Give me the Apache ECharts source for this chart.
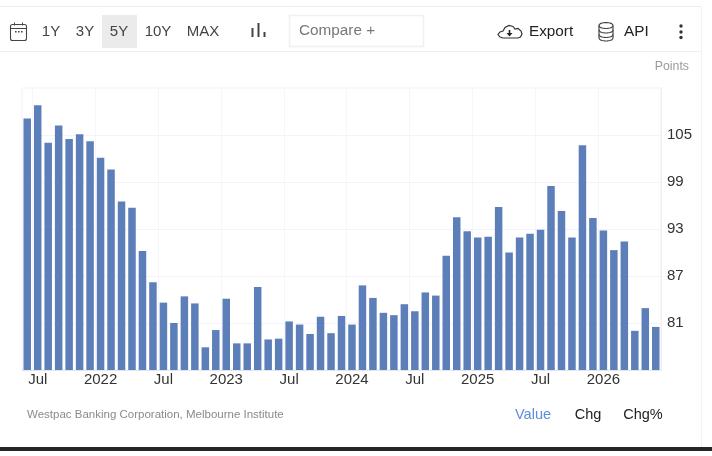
<!DOCTYPE html>
<html>
<head>
<meta charset="utf-8">
<style>
  html, body { margin: 0; padding: 0; background: #fff; }
  #chart { width: 712px; height: 456px; }
</style>
<script src="https://cdn.jsdelivr.net/npm/echarts@6/dist/echarts.min.js"></script>
</head>
<body>
<div id="chart"></div>
<script>
// Consumer sentiment index, monthly, June 2021 to June 2026
const months = [
  'Jun 2021','Jul 2021','Aug 2021','Sep 2021','Oct 2021','Nov 2021','Dec 2021',
  'Jan 2022','Feb 2022','Mar 2022','Apr 2022','May 2022','Jun 2022','Jul 2022','Aug 2022','Sep 2022','Oct 2022','Nov 2022','Dec 2022',
  'Jan 2023','Feb 2023','Mar 2023','Apr 2023','May 2023','Jun 2023','Jul 2023','Aug 2023','Sep 2023','Oct 2023','Nov 2023','Dec 2023',
  'Jan 2024','Feb 2024','Mar 2024','Apr 2024','May 2024','Jun 2024','Jul 2024','Aug 2024','Sep 2024','Oct 2024','Nov 2024','Dec 2024',
  'Jan 2025','Feb 2025','Mar 2025','Apr 2025','May 2025','Jun 2025','Jul 2025','Aug 2025','Sep 2025','Oct 2025','Nov 2025','Dec 2025',
  'Jan 2026','Feb 2026','Mar 2026','Apr 2026','May 2026','Jun 2026'
];
const sentiment = [
  107.1,108.8,104.0,106.2,104.5,105.1,104.2,
  102.1,100.6,96.5,95.7,90.2,86.2,83.6,81.0,84.4,83.5,77.9,80.1,
  84.1,78.4,78.4,85.6,78.9,79.0,81.2,80.8,79.6,81.8,79.7,81.9,
  80.8,85.8,84.2,82.3,82.0,83.4,82.5,84.9,84.5,89.6,94.5,92.7,
  91.9,92.0,95.8,90.0,91.9,92.4,92.9,98.5,95.3,91.9,103.7,94.4,
  92.8,90.3,91.4,80.0,82.9,80.5
];
const valueTicks = [81, 87, 93, 99, 105];
const rangeButtons = ['1Y', '3Y', '5Y', '10Y', 'MAX'];
const rangeCentres = [51, 85, 119, 158, 203];
const modeLabels = ['Value', 'Chg', 'Chg%'];
const modeCentres = [533, 588, 643];

const FONT = '"Liberation Sans", Arial, sans-serif';

function label(text, x, y, size, fill, align) {
  return { type: 'text', x, y, silent: true,
    style: { text, fill, font: size + 'px ' + FONT, textAlign: align || 'center', textVerticalAlign: 'middle' } };
}
function rect(x, y, width, height, style, r) {
  return { type: 'rect', shape: { x, y, width, height, r: r || 0 }, silent: true, style };
}
function line(x1, y1, x2, y2, stroke, lineWidth) {
  return { type: 'line', shape: { x1, y1, x2, y2 }, silent: true, style: { stroke, lineWidth: lineWidth || 1 } };
}
// Elliptical arc as a polyline, used for the database icon's discs
function discArc(cx, cy, rx, ry, from, to) {
  const points = [];
  for (let a = from; a <= to + 1e-6; a += Math.PI / 16) {
    points.push([cx + rx * Math.cos(a), cy + ry * Math.sin(a)]);
  }
  return { type: 'polyline', silent: true, shape: { points }, style: { fill: 'none', stroke: '#444', lineWidth: 1.2 } };
}

// Toolbar and panel furniture drawn around the plot
const furniture = [
  line(0, 6.5, 701, 6.5, '#ececec'),
  line(0, 51.5, 701, 51.5, '#eeeeee'),
  line(701.5, 6, 701.5, 447, '#f2f2f2'),
  rect(0, 447, 712, 4, { fill: '#26262a' }),
  rect(102, 15, 35, 33, { fill: '#ebebeb' }),

  // calendar
  rect(10.5, 24.5, 16, 16, { fill: 'none', stroke: '#444', lineWidth: 1.1 }, 2),
  line(10.5, 28.5, 26.5, 28.5, '#444'),
  line(14.5, 22.5, 14.5, 25.5, '#444'),
  line(22.5, 22.5, 22.5, 25.5, '#444'),
  rect(15, 31, 1.6, 1.6, { fill: '#444' }),
  rect(18, 31, 1.6, 1.6, { fill: '#444' }),
  rect(21, 31, 1.6, 1.6, { fill: '#444' }),

  // bar-chart switch
  line(252.5, 37, 252.5, 28, '#444', 2),
  line(258.5, 37, 258.5, 23, '#444', 2),
  line(264.5, 37, 264.5, 32, '#444', 2),

  // compare box
  rect(289.5, 15.5, 134, 31, { fill: '#fff', stroke: '#f0f0f0', lineWidth: 1.5 }),
  label('Compare +', 299, 31, 15.3, '#777777', 'left'),

  // export cloud
  { type: 'polyline', silent: true,
    shape: { points: [[503, 38], [500, 37], [498, 34.5], [500, 32], [503, 31], [505, 27.5], [509, 25.5], [513, 26.5], [515, 29], [518, 28.5], [521, 31], [522, 34], [520.5, 37], [518, 38], [503, 38]] },
    style: { fill: 'none', stroke: '#333', lineWidth: 1.2 } },
  line(509.5, 30, 509.5, 34, '#222', 1.6),
  { type: 'polygon', silent: true, shape: { points: [[506.5, 33], [512.5, 33], [509.5, 36.5]] }, style: { fill: '#222' } },
  label('Export', 529, 32, 15.3, '#222222', 'left'),

  // API database: stacked discs
  discArc(606, 25.5, 7, 3, 0, Math.PI * 2),
  discArc(606, 30, 7, 3, 0, Math.PI),
  discArc(606, 34.5, 7, 3, 0, Math.PI),
  discArc(606, 38, 7, 3, 0, Math.PI),
  line(599, 25.5, 599, 38, '#444', 1.2),
  line(613, 25.5, 613, 38, '#444', 1.2),
  label('API', 624, 32, 15.3, '#222222', 'left'),

  // overflow menu
  { type: 'circle', silent: true, shape: { cx: 681, cy: 26, r: 1.7 }, style: { fill: '#333' } },
  { type: 'circle', silent: true, shape: { cx: 681, cy: 32, r: 1.7 }, style: { fill: '#333' } },
  { type: 'circle', silent: true, shape: { cx: 681, cy: 37.5, r: 1.7 }, style: { fill: '#333' } },

  label('Points', 689, 67, 12.3, '#9a9a9a', 'right'),
  label('Westpac Banking Corporation, Melbourne Institute', 27, 415, 11.5, '#8a8a8a', 'left')
];
rangeButtons.forEach((t, i) => furniture.push(label(t, rangeCentres[i], 32, 15, '#444444')));
modeLabels.forEach((t, i) => furniture.push(label(t, modeCentres[i], 415, 14.5, i === 0 ? '#5b8dd9' : '#222222')));

const chart = echarts.init(document.getElementById('chart'), null, { renderer: 'canvas' });
chart.setOption({
  animation: false,
  backgroundColor: '#ffffff',
  graphic: { elements: furniture },
  grid: { left: 22, right: 51, top: 88, bottom: 86, show: true, borderColor: '#f1f1f7', borderWidth: 1 },
  xAxis: {
    type: 'category',
    data: months,
    axisLine: { show: true, lineStyle: { color: '#e4e6ee', width: 1 } },
    axisTick: { show: false },
    axisLabel: {
      interval: (i) => (i - 1) % 6 === 0,
      formatter: (v) => v.startsWith('Jul') ? 'Jul' : v.slice(4),
      color: '#333333', fontSize: 15, fontFamily: FONT, margin: 2
    },
    splitLine: { show: true, interval: (i) => i > 0 && (i - 1) % 6 === 0, lineStyle: { color: '#f5f5fb', width: 1 } }
  },
  yAxis: {
    type: 'value',
    position: 'right',
    min: 75,
    max: 111,
    axisLine: { show: true, lineStyle: { color: '#eeeef4', width: 1 } },
    axisTick: { show: false, customValues: valueTicks },
    axisLabel: { customValues: valueTicks, color: '#333333', fontSize: 15, fontFamily: FONT, margin: 6, padding: [0, 0, 3, 0] },
    splitLine: { show: true, lineStyle: { color: '#f3f3f9', width: 1 } }
  },
  series: [{
    type: 'bar',
    data: sentiment,
    barWidth: 7.5,
    itemStyle: { color: '#5d7fb9' },
    silent: true
  }]
});
</script>
</body>
</html>
